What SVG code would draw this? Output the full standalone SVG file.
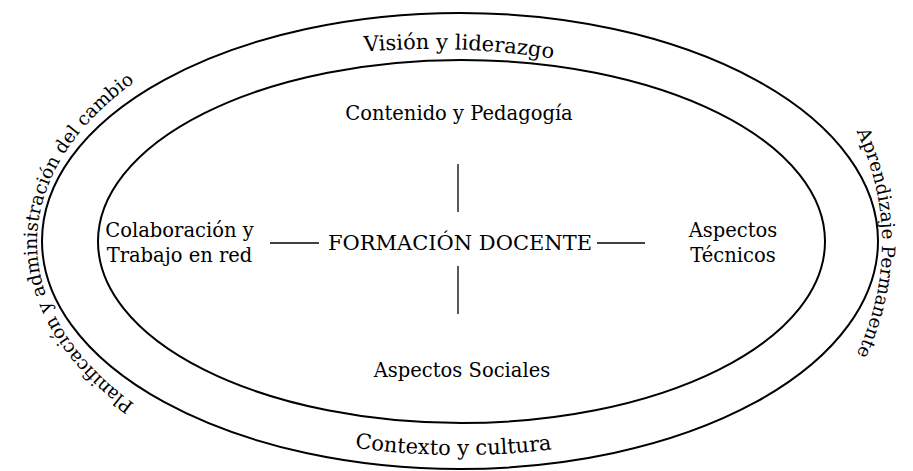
<svg xmlns="http://www.w3.org/2000/svg" width="913" height="471" viewBox="0 0 913 471">
<style>
  .ring { fill: none; stroke: #000; stroke-width: 2; }
  .conn { stroke: #000; stroke-width: 1.3; fill: none; }
  text { font-family: "DejaVu Serif", "Liberation Serif", serif; fill: #000; }
  .lbl { font-size: 19.5px; }
  .main { font-size: 21px; }
  .arc { font-size: 21px; }
  .side { font-size: 18.5px; }
</style>
<defs>
  <path id="pTop" d="M 34,240 A 395,191 0 0 1 824,240"/>
  <path id="pBot" d="M 55,241 A 405,214 0 0 0 865,241"/>
  <path id="pLeft" d="M 460,495 A 423,252 0 0 1 37,243 A 423,252 0 0 1 460,-9"/>
  <path id="pRight" d="M 460,-83 A 422,326 0 0 1 882,243 A 422,326 0 0 1 460,569"/>
</defs>
<g id="outer-ring">
  <ellipse class="ring" cx="460" cy="241" rx="418" ry="228"/>
  <text class="arc" text-anchor="middle"><textPath href="#pTop" startOffset="504">Visión y liderazgo</textPath></text>
  <text class="arc" text-anchor="middle"><textPath href="#pBot" startOffset="491">Contexto y cultura</textPath></text>
  <text class="side" text-anchor="middle"><textPath href="#pLeft" startOffset="50%">Planificación y administración del cambio</textPath></text>
  <text class="side" text-anchor="middle"><textPath href="#pRight" startOffset="50%">Aprendizaje Permanente</textPath></text>
</g>
<g id="inner-ring">
  <ellipse class="ring" cx="461.5" cy="241.5" rx="363.5" ry="181.5"/>
</g>
<g id="center">
  <text class="main" x="460" y="250" text-anchor="middle">FORMACIÓN DOCENTE</text>
</g>
<g id="top">
  <text class="lbl" x="459" y="120" text-anchor="middle">Contenido y Pedagogía</text>
</g>
<g id="left">
  <text class="lbl" x="179.5" y="237" text-anchor="middle">Colaboración y</text>
  <text class="lbl" x="179.5" y="262" text-anchor="middle">Trabajo en red</text>
</g>
<g id="right">
  <text class="lbl" x="733" y="237" text-anchor="middle">Aspectos</text>
  <text class="lbl" x="733" y="262" text-anchor="middle">Técnicos</text>
</g>
<g id="bottom">
  <text class="lbl" x="462" y="377" text-anchor="middle">Aspectos Sociales</text>
</g>
<g id="connectors">
  <line class="conn" x1="458" y1="164" x2="458" y2="212"/>
  <line class="conn" x1="458" y1="266" x2="458" y2="314"/>
  <line class="conn" x1="270" y1="243" x2="319" y2="243"/>
  <line class="conn" x1="597" y1="243" x2="645" y2="243"/>
</g>
</svg>
